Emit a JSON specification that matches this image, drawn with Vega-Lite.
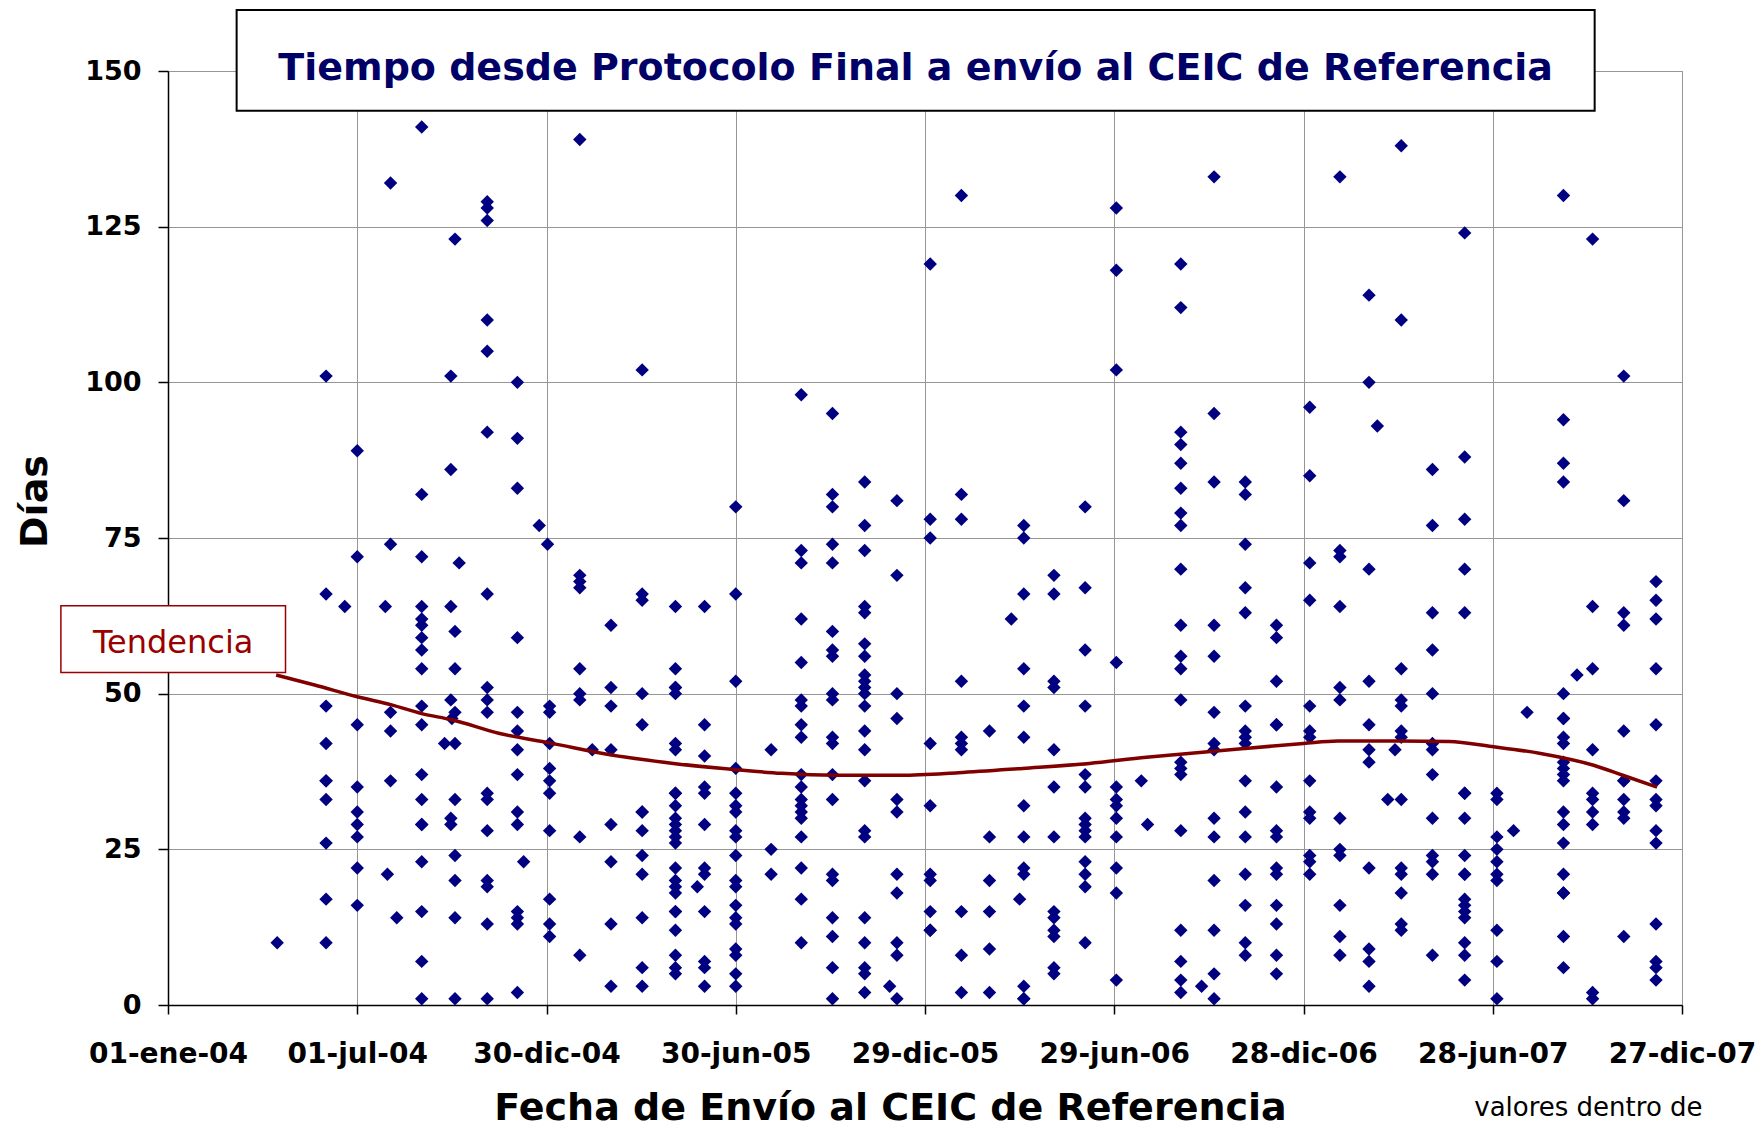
{
  "$schema": "https://vega.github.io/schema/vega-lite/v6.json",
  "width": 1514,
  "height": 934,
  "autosize": {"type": "none"},
  "padding": {"left": 168, "top": 71, "right": 81, "bottom": 124},
  "background": "white",
  "config": {
    "font": "DejaVu Sans",
    "view": {"stroke": "#969696", "strokeWidth": 1}
  },
  "datasets": {
    "puntos": [
      {"fecha":"2004-04-15","dias":10},
      {"fecha":"2004-06-01","dias":101},{"fecha":"2004-06-01","dias":66},{"fecha":"2004-06-01","dias":48},{"fecha":"2004-06-01","dias":42},{"fecha":"2004-06-01","dias":36},{"fecha":"2004-06-01","dias":36},{"fecha":"2004-06-01","dias":33},{"fecha":"2004-06-01","dias":26},{"fecha":"2004-06-01","dias":17},{"fecha":"2004-06-01","dias":10},
      {"fecha":"2004-06-19","dias":64},
      {"fecha":"2004-07-01","dias":89},{"fecha":"2004-07-01","dias":72},{"fecha":"2004-07-01","dias":45},{"fecha":"2004-07-01","dias":35},{"fecha":"2004-07-01","dias":31},{"fecha":"2004-07-01","dias":29},{"fecha":"2004-07-01","dias":27},{"fecha":"2004-07-01","dias":22},{"fecha":"2004-07-01","dias":16},
      {"fecha":"2004-07-28","dias":64},
      {"fecha":"2004-07-30","dias":21},
      {"fecha":"2004-08-02","dias":132},{"fecha":"2004-08-02","dias":74},{"fecha":"2004-08-02","dias":47},{"fecha":"2004-08-02","dias":44},{"fecha":"2004-08-02","dias":36},
      {"fecha":"2004-08-08","dias":14},
      {"fecha":"2004-09-01","dias":141},{"fecha":"2004-09-01","dias":82},{"fecha":"2004-09-01","dias":72},{"fecha":"2004-09-01","dias":64},{"fecha":"2004-09-01","dias":62},{"fecha":"2004-09-01","dias":61},{"fecha":"2004-09-01","dias":59},{"fecha":"2004-09-01","dias":57},{"fecha":"2004-09-01","dias":54},{"fecha":"2004-09-01","dias":48},{"fecha":"2004-09-01","dias":45},{"fecha":"2004-09-01","dias":37},{"fecha":"2004-09-01","dias":33},{"fecha":"2004-09-01","dias":29},{"fecha":"2004-09-01","dias":29},{"fecha":"2004-09-01","dias":23},{"fecha":"2004-09-01","dias":15},{"fecha":"2004-09-01","dias":7},{"fecha":"2004-09-01","dias":1},
      {"fecha":"2004-09-23","dias":42},
      {"fecha":"2004-09-29","dias":101},{"fecha":"2004-09-29","dias":86},{"fecha":"2004-09-29","dias":64},{"fecha":"2004-09-29","dias":49},{"fecha":"2004-09-29","dias":30},{"fecha":"2004-09-29","dias":29},
      {"fecha":"2004-09-30","dias":46},
      {"fecha":"2004-10-03","dias":123},{"fecha":"2004-10-03","dias":60},{"fecha":"2004-10-03","dias":54},{"fecha":"2004-10-03","dias":47},{"fecha":"2004-10-03","dias":42},{"fecha":"2004-10-03","dias":33},{"fecha":"2004-10-03","dias":24},{"fecha":"2004-10-03","dias":20},{"fecha":"2004-10-03","dias":14},{"fecha":"2004-10-03","dias":1},
      {"fecha":"2004-10-07","dias":71},
      {"fecha":"2004-11-03","dias":129},{"fecha":"2004-11-03","dias":128},{"fecha":"2004-11-03","dias":126},{"fecha":"2004-11-03","dias":110},{"fecha":"2004-11-03","dias":105},{"fecha":"2004-11-03","dias":92},{"fecha":"2004-11-03","dias":66},{"fecha":"2004-11-03","dias":51},{"fecha":"2004-11-03","dias":49},{"fecha":"2004-11-03","dias":47},{"fecha":"2004-11-03","dias":34},{"fecha":"2004-11-03","dias":33},{"fecha":"2004-11-03","dias":28},{"fecha":"2004-11-03","dias":20},{"fecha":"2004-11-03","dias":19},{"fecha":"2004-11-03","dias":13},{"fecha":"2004-11-03","dias":1},
      {"fecha":"2004-12-02","dias":100},{"fecha":"2004-12-02","dias":91},{"fecha":"2004-12-02","dias":83},{"fecha":"2004-12-02","dias":59},{"fecha":"2004-12-02","dias":47},{"fecha":"2004-12-02","dias":44},{"fecha":"2004-12-02","dias":41},{"fecha":"2004-12-02","dias":37},{"fecha":"2004-12-02","dias":31},{"fecha":"2004-12-02","dias":29},{"fecha":"2004-12-02","dias":15},{"fecha":"2004-12-02","dias":14},{"fecha":"2004-12-02","dias":13},{"fecha":"2004-12-02","dias":2},
      {"fecha":"2004-12-08","dias":23},
      {"fecha":"2004-12-23","dias":77},
      {"fecha":"2004-12-31","dias":74},
      {"fecha":"2005-01-02","dias":48},{"fecha":"2005-01-02","dias":47},{"fecha":"2005-01-02","dias":42},{"fecha":"2005-01-02","dias":38},{"fecha":"2005-01-02","dias":36},{"fecha":"2005-01-02","dias":34},{"fecha":"2005-01-02","dias":28},{"fecha":"2005-01-02","dias":17},{"fecha":"2005-01-02","dias":13},{"fecha":"2005-01-02","dias":11},
      {"fecha":"2005-01-31","dias":139},{"fecha":"2005-01-31","dias":69},{"fecha":"2005-01-31","dias":68},{"fecha":"2005-01-31","dias":67},{"fecha":"2005-01-31","dias":54},{"fecha":"2005-01-31","dias":50},{"fecha":"2005-01-31","dias":49},{"fecha":"2005-01-31","dias":27},{"fecha":"2005-01-31","dias":8},
      {"fecha":"2005-02-12","dias":41},
      {"fecha":"2005-03-02","dias":61},{"fecha":"2005-03-02","dias":51},{"fecha":"2005-03-02","dias":48},{"fecha":"2005-03-02","dias":41},{"fecha":"2005-03-02","dias":29},{"fecha":"2005-03-02","dias":23},{"fecha":"2005-03-02","dias":13},{"fecha":"2005-03-02","dias":3},
      {"fecha":"2005-04-01","dias":102},{"fecha":"2005-04-01","dias":66},{"fecha":"2005-04-01","dias":65},{"fecha":"2005-04-01","dias":50},{"fecha":"2005-04-01","dias":45},{"fecha":"2005-04-01","dias":31},{"fecha":"2005-04-01","dias":31},{"fecha":"2005-04-01","dias":28},{"fecha":"2005-04-01","dias":24},{"fecha":"2005-04-01","dias":21},{"fecha":"2005-04-01","dias":14},{"fecha":"2005-04-01","dias":6},{"fecha":"2005-04-01","dias":3},
      {"fecha":"2005-05-03","dias":64},{"fecha":"2005-05-03","dias":54},{"fecha":"2005-05-03","dias":51},{"fecha":"2005-05-03","dias":51},{"fecha":"2005-05-03","dias":50},{"fecha":"2005-05-03","dias":42},{"fecha":"2005-05-03","dias":41},{"fecha":"2005-05-03","dias":34},{"fecha":"2005-05-03","dias":34},{"fecha":"2005-05-03","dias":32},{"fecha":"2005-05-03","dias":30},{"fecha":"2005-05-03","dias":29},{"fecha":"2005-05-03","dias":28},{"fecha":"2005-05-03","dias":27},{"fecha":"2005-05-03","dias":26},{"fecha":"2005-05-03","dias":22},{"fecha":"2005-05-03","dias":20},{"fecha":"2005-05-03","dias":19},{"fecha":"2005-05-03","dias":18},{"fecha":"2005-05-03","dias":15},{"fecha":"2005-05-03","dias":15},{"fecha":"2005-05-03","dias":12},{"fecha":"2005-05-03","dias":8},{"fecha":"2005-05-03","dias":6},{"fecha":"2005-05-03","dias":5},
      {"fecha":"2005-05-24","dias":19},
      {"fecha":"2005-05-31","dias":64},{"fecha":"2005-05-31","dias":45},{"fecha":"2005-05-31","dias":40},{"fecha":"2005-05-31","dias":35},{"fecha":"2005-05-31","dias":34},{"fecha":"2005-05-31","dias":29},{"fecha":"2005-05-31","dias":22},{"fecha":"2005-05-31","dias":21},{"fecha":"2005-05-31","dias":15},{"fecha":"2005-05-31","dias":7},{"fecha":"2005-05-31","dias":6},{"fecha":"2005-05-31","dias":3},
      {"fecha":"2005-06-30","dias":80},{"fecha":"2005-06-30","dias":66},{"fecha":"2005-06-30","dias":52},{"fecha":"2005-06-30","dias":38},{"fecha":"2005-06-30","dias":34},{"fecha":"2005-06-30","dias":32},{"fecha":"2005-06-30","dias":31},{"fecha":"2005-06-30","dias":28},{"fecha":"2005-06-30","dias":27},{"fecha":"2005-06-30","dias":24},{"fecha":"2005-06-30","dias":20},{"fecha":"2005-06-30","dias":19},{"fecha":"2005-06-30","dias":16},{"fecha":"2005-06-30","dias":14},{"fecha":"2005-06-30","dias":13},{"fecha":"2005-06-30","dias":9},{"fecha":"2005-06-30","dias":8},{"fecha":"2005-06-30","dias":5},{"fecha":"2005-06-30","dias":3},
      {"fecha":"2005-08-03","dias":41},{"fecha":"2005-08-03","dias":25},{"fecha":"2005-08-03","dias":21},
      {"fecha":"2005-09-01","dias":98},{"fecha":"2005-09-01","dias":73},{"fecha":"2005-09-01","dias":71},{"fecha":"2005-09-01","dias":62},{"fecha":"2005-09-01","dias":55},{"fecha":"2005-09-01","dias":49},{"fecha":"2005-09-01","dias":48},{"fecha":"2005-09-01","dias":45},{"fecha":"2005-09-01","dias":43},{"fecha":"2005-09-01","dias":37},{"fecha":"2005-09-01","dias":35},{"fecha":"2005-09-01","dias":33},{"fecha":"2005-09-01","dias":32},{"fecha":"2005-09-01","dias":31},{"fecha":"2005-09-01","dias":30},{"fecha":"2005-09-01","dias":27},{"fecha":"2005-09-01","dias":22},{"fecha":"2005-09-01","dias":17},{"fecha":"2005-09-01","dias":10},
      {"fecha":"2005-10-01","dias":95},{"fecha":"2005-10-01","dias":82},{"fecha":"2005-10-01","dias":80},{"fecha":"2005-10-01","dias":74},{"fecha":"2005-10-01","dias":71},{"fecha":"2005-10-01","dias":60},{"fecha":"2005-10-01","dias":57},{"fecha":"2005-10-01","dias":56},{"fecha":"2005-10-01","dias":50},{"fecha":"2005-10-01","dias":49},{"fecha":"2005-10-01","dias":43},{"fecha":"2005-10-01","dias":42},{"fecha":"2005-10-01","dias":37},{"fecha":"2005-10-01","dias":33},{"fecha":"2005-10-01","dias":21},{"fecha":"2005-10-01","dias":20},{"fecha":"2005-10-01","dias":14},{"fecha":"2005-10-01","dias":11},{"fecha":"2005-10-01","dias":6},{"fecha":"2005-10-01","dias":1},
      {"fecha":"2005-11-01","dias":84},{"fecha":"2005-11-01","dias":77},{"fecha":"2005-11-01","dias":73},{"fecha":"2005-11-01","dias":64},{"fecha":"2005-11-01","dias":63},{"fecha":"2005-11-01","dias":58},{"fecha":"2005-11-01","dias":56},{"fecha":"2005-11-01","dias":53},{"fecha":"2005-11-01","dias":52},{"fecha":"2005-11-01","dias":51},{"fecha":"2005-11-01","dias":50},{"fecha":"2005-11-01","dias":48},{"fecha":"2005-11-01","dias":44},{"fecha":"2005-11-01","dias":41},{"fecha":"2005-11-01","dias":36},{"fecha":"2005-11-01","dias":28},{"fecha":"2005-11-01","dias":27},{"fecha":"2005-11-01","dias":14},{"fecha":"2005-11-01","dias":10},{"fecha":"2005-11-01","dias":6},{"fecha":"2005-11-01","dias":5},{"fecha":"2005-11-01","dias":2},
      {"fecha":"2005-11-25","dias":3},
      {"fecha":"2005-12-02","dias":81},{"fecha":"2005-12-02","dias":69},{"fecha":"2005-12-02","dias":50},{"fecha":"2005-12-02","dias":46},{"fecha":"2005-12-02","dias":33},{"fecha":"2005-12-02","dias":31},{"fecha":"2005-12-02","dias":21},{"fecha":"2005-12-02","dias":18},{"fecha":"2005-12-02","dias":10},{"fecha":"2005-12-02","dias":8},{"fecha":"2005-12-02","dias":1},
      {"fecha":"2006-01-03","dias":119},{"fecha":"2006-01-03","dias":78},{"fecha":"2006-01-03","dias":75},{"fecha":"2006-01-03","dias":42},{"fecha":"2006-01-03","dias":32},{"fecha":"2006-01-03","dias":21},{"fecha":"2006-01-03","dias":20},{"fecha":"2006-01-03","dias":15},{"fecha":"2006-01-03","dias":12},{"fecha":"2006-01-03","dias":12},
      {"fecha":"2006-02-02","dias":130},{"fecha":"2006-02-02","dias":82},{"fecha":"2006-02-02","dias":78},{"fecha":"2006-02-02","dias":52},{"fecha":"2006-02-02","dias":43},{"fecha":"2006-02-02","dias":42},{"fecha":"2006-02-02","dias":41},{"fecha":"2006-02-02","dias":15},{"fecha":"2006-02-02","dias":8},{"fecha":"2006-02-02","dias":2},
      {"fecha":"2006-03-01","dias":44},{"fecha":"2006-03-01","dias":27},{"fecha":"2006-03-01","dias":20},{"fecha":"2006-03-01","dias":15},{"fecha":"2006-03-01","dias":9},{"fecha":"2006-03-01","dias":2},
      {"fecha":"2006-03-22","dias":62},
      {"fecha":"2006-03-30","dias":17},
      {"fecha":"2006-04-03","dias":77},{"fecha":"2006-04-03","dias":75},{"fecha":"2006-04-03","dias":66},{"fecha":"2006-04-03","dias":54},{"fecha":"2006-04-03","dias":48},{"fecha":"2006-04-03","dias":43},{"fecha":"2006-04-03","dias":32},{"fecha":"2006-04-03","dias":27},{"fecha":"2006-04-03","dias":22},{"fecha":"2006-04-03","dias":21},{"fecha":"2006-04-03","dias":3},{"fecha":"2006-04-03","dias":1},{"fecha":"2006-04-03","dias":1},
      {"fecha":"2006-05-02","dias":69},{"fecha":"2006-05-02","dias":66},{"fecha":"2006-05-02","dias":52},{"fecha":"2006-05-02","dias":51},{"fecha":"2006-05-02","dias":41},{"fecha":"2006-05-02","dias":35},{"fecha":"2006-05-02","dias":27},{"fecha":"2006-05-02","dias":15},{"fecha":"2006-05-02","dias":14},{"fecha":"2006-05-02","dias":12},{"fecha":"2006-05-02","dias":11},{"fecha":"2006-05-02","dias":6},{"fecha":"2006-05-02","dias":5},
      {"fecha":"2006-06-01","dias":80},{"fecha":"2006-06-01","dias":67},{"fecha":"2006-06-01","dias":57},{"fecha":"2006-06-01","dias":48},{"fecha":"2006-06-01","dias":37},{"fecha":"2006-06-01","dias":35},{"fecha":"2006-06-01","dias":30},{"fecha":"2006-06-01","dias":29},{"fecha":"2006-06-01","dias":28},{"fecha":"2006-06-01","dias":27},{"fecha":"2006-06-01","dias":23},{"fecha":"2006-06-01","dias":21},{"fecha":"2006-06-01","dias":19},{"fecha":"2006-06-01","dias":10},
      {"fecha":"2006-07-01","dias":128},{"fecha":"2006-07-01","dias":118},{"fecha":"2006-07-01","dias":102},{"fecha":"2006-07-01","dias":55},{"fecha":"2006-07-01","dias":35},{"fecha":"2006-07-01","dias":33},{"fecha":"2006-07-01","dias":32},{"fecha":"2006-07-01","dias":30},{"fecha":"2006-07-01","dias":27},{"fecha":"2006-07-01","dias":22},{"fecha":"2006-07-01","dias":18},{"fecha":"2006-07-01","dias":4},
      {"fecha":"2006-07-25","dias":36},
      {"fecha":"2006-07-31","dias":29},
      {"fecha":"2006-09-01","dias":119},{"fecha":"2006-09-01","dias":112},{"fecha":"2006-09-01","dias":92},{"fecha":"2006-09-01","dias":90},{"fecha":"2006-09-01","dias":87},{"fecha":"2006-09-01","dias":83},{"fecha":"2006-09-01","dias":79},{"fecha":"2006-09-01","dias":77},{"fecha":"2006-09-01","dias":70},{"fecha":"2006-09-01","dias":61},{"fecha":"2006-09-01","dias":56},{"fecha":"2006-09-01","dias":54},{"fecha":"2006-09-01","dias":49},{"fecha":"2006-09-01","dias":39},{"fecha":"2006-09-01","dias":38},{"fecha":"2006-09-01","dias":37},{"fecha":"2006-09-01","dias":28},{"fecha":"2006-09-01","dias":12},{"fecha":"2006-09-01","dias":7},{"fecha":"2006-09-01","dias":4},{"fecha":"2006-09-01","dias":2},
      {"fecha":"2006-09-21","dias":3},
      {"fecha":"2006-10-03","dias":133},{"fecha":"2006-10-03","dias":95},{"fecha":"2006-10-03","dias":84},{"fecha":"2006-10-03","dias":61},{"fecha":"2006-10-03","dias":56},{"fecha":"2006-10-03","dias":47},{"fecha":"2006-10-03","dias":42},{"fecha":"2006-10-03","dias":41},{"fecha":"2006-10-03","dias":30},{"fecha":"2006-10-03","dias":27},{"fecha":"2006-10-03","dias":20},{"fecha":"2006-10-03","dias":12},{"fecha":"2006-10-03","dias":5},{"fecha":"2006-10-03","dias":1},
      {"fecha":"2006-11-02","dias":84},{"fecha":"2006-11-02","dias":82},{"fecha":"2006-11-02","dias":74},{"fecha":"2006-11-02","dias":67},{"fecha":"2006-11-02","dias":63},{"fecha":"2006-11-02","dias":48},{"fecha":"2006-11-02","dias":44},{"fecha":"2006-11-02","dias":43},{"fecha":"2006-11-02","dias":42},{"fecha":"2006-11-02","dias":36},{"fecha":"2006-11-02","dias":31},{"fecha":"2006-11-02","dias":27},{"fecha":"2006-11-02","dias":21},{"fecha":"2006-11-02","dias":16},{"fecha":"2006-11-02","dias":10},{"fecha":"2006-11-02","dias":8},
      {"fecha":"2006-12-02","dias":61},{"fecha":"2006-12-02","dias":59},{"fecha":"2006-12-02","dias":52},{"fecha":"2006-12-02","dias":45},{"fecha":"2006-12-02","dias":45},{"fecha":"2006-12-02","dias":35},{"fecha":"2006-12-02","dias":28},{"fecha":"2006-12-02","dias":27},{"fecha":"2006-12-02","dias":22},{"fecha":"2006-12-02","dias":21},{"fecha":"2006-12-02","dias":16},{"fecha":"2006-12-02","dias":13},{"fecha":"2006-12-02","dias":8},{"fecha":"2006-12-02","dias":5},
      {"fecha":"2007-01-03","dias":96},{"fecha":"2007-01-03","dias":85},{"fecha":"2007-01-03","dias":71},{"fecha":"2007-01-03","dias":65},{"fecha":"2007-01-03","dias":48},{"fecha":"2007-01-03","dias":44},{"fecha":"2007-01-03","dias":43},{"fecha":"2007-01-03","dias":36},{"fecha":"2007-01-03","dias":31},{"fecha":"2007-01-03","dias":30},{"fecha":"2007-01-03","dias":24},{"fecha":"2007-01-03","dias":23},{"fecha":"2007-01-03","dias":21},
      {"fecha":"2007-02-01","dias":133},{"fecha":"2007-02-01","dias":73},{"fecha":"2007-02-01","dias":72},{"fecha":"2007-02-01","dias":64},{"fecha":"2007-02-01","dias":51},{"fecha":"2007-02-01","dias":49},{"fecha":"2007-02-01","dias":30},{"fecha":"2007-02-01","dias":25},{"fecha":"2007-02-01","dias":24},{"fecha":"2007-02-01","dias":16},{"fecha":"2007-02-01","dias":11},{"fecha":"2007-02-01","dias":8},
      {"fecha":"2007-03-01","dias":114},{"fecha":"2007-03-01","dias":100},{"fecha":"2007-03-01","dias":70},{"fecha":"2007-03-01","dias":52},{"fecha":"2007-03-01","dias":45},{"fecha":"2007-03-01","dias":41},{"fecha":"2007-03-01","dias":39},{"fecha":"2007-03-01","dias":22},{"fecha":"2007-03-01","dias":9},{"fecha":"2007-03-01","dias":7},{"fecha":"2007-03-01","dias":3},
      {"fecha":"2007-03-09","dias":93},
      {"fecha":"2007-03-19","dias":33},
      {"fecha":"2007-03-26","dias":41},
      {"fecha":"2007-04-01","dias":138},{"fecha":"2007-04-01","dias":110},{"fecha":"2007-04-01","dias":54},{"fecha":"2007-04-01","dias":49},{"fecha":"2007-04-01","dias":48},{"fecha":"2007-04-01","dias":44},{"fecha":"2007-04-01","dias":43},{"fecha":"2007-04-01","dias":33},{"fecha":"2007-04-01","dias":22},{"fecha":"2007-04-01","dias":21},{"fecha":"2007-04-01","dias":18},{"fecha":"2007-04-01","dias":13},{"fecha":"2007-04-01","dias":12},
      {"fecha":"2007-05-01","dias":86},{"fecha":"2007-05-01","dias":77},{"fecha":"2007-05-01","dias":63},{"fecha":"2007-05-01","dias":57},{"fecha":"2007-05-01","dias":50},{"fecha":"2007-05-01","dias":42},{"fecha":"2007-05-01","dias":41},{"fecha":"2007-05-01","dias":37},{"fecha":"2007-05-01","dias":30},{"fecha":"2007-05-01","dias":24},{"fecha":"2007-05-01","dias":23},{"fecha":"2007-05-01","dias":21},{"fecha":"2007-05-01","dias":8},
      {"fecha":"2007-06-01","dias":124},{"fecha":"2007-06-01","dias":88},{"fecha":"2007-06-01","dias":78},{"fecha":"2007-06-01","dias":70},{"fecha":"2007-06-01","dias":63},{"fecha":"2007-06-01","dias":34},{"fecha":"2007-06-01","dias":34},{"fecha":"2007-06-01","dias":30},{"fecha":"2007-06-01","dias":24},{"fecha":"2007-06-01","dias":21},{"fecha":"2007-06-01","dias":21},{"fecha":"2007-06-01","dias":17},{"fecha":"2007-06-01","dias":16},{"fecha":"2007-06-01","dias":15},{"fecha":"2007-06-01","dias":14},{"fecha":"2007-06-01","dias":10},{"fecha":"2007-06-01","dias":8},{"fecha":"2007-06-01","dias":4},
      {"fecha":"2007-07-02","dias":34},{"fecha":"2007-07-02","dias":33},{"fecha":"2007-07-02","dias":27},{"fecha":"2007-07-02","dias":25},{"fecha":"2007-07-02","dias":23},{"fecha":"2007-07-02","dias":21},{"fecha":"2007-07-02","dias":20},{"fecha":"2007-07-02","dias":12},{"fecha":"2007-07-02","dias":7},{"fecha":"2007-07-02","dias":1},
      {"fecha":"2007-07-18","dias":28},
      {"fecha":"2007-07-31","dias":47},
      {"fecha":"2007-09-04","dias":130},{"fecha":"2007-09-04","dias":94},{"fecha":"2007-09-04","dias":87},{"fecha":"2007-09-04","dias":84},{"fecha":"2007-09-04","dias":50},{"fecha":"2007-09-04","dias":46},{"fecha":"2007-09-04","dias":46},{"fecha":"2007-09-04","dias":43},{"fecha":"2007-09-04","dias":42},{"fecha":"2007-09-04","dias":39},{"fecha":"2007-09-04","dias":38},{"fecha":"2007-09-04","dias":37},{"fecha":"2007-09-04","dias":36},{"fecha":"2007-09-04","dias":31},{"fecha":"2007-09-04","dias":29},{"fecha":"2007-09-04","dias":26},{"fecha":"2007-09-04","dias":21},{"fecha":"2007-09-04","dias":18},{"fecha":"2007-09-04","dias":18},{"fecha":"2007-09-04","dias":11},{"fecha":"2007-09-04","dias":6},
      {"fecha":"2007-09-17","dias":53},
      {"fecha":"2007-10-02","dias":123},{"fecha":"2007-10-02","dias":64},{"fecha":"2007-10-02","dias":54},{"fecha":"2007-10-02","dias":41},{"fecha":"2007-10-02","dias":34},{"fecha":"2007-10-02","dias":33},{"fecha":"2007-10-02","dias":31},{"fecha":"2007-10-02","dias":29},{"fecha":"2007-10-02","dias":2},{"fecha":"2007-10-02","dias":1},
      {"fecha":"2007-11-01","dias":101},{"fecha":"2007-11-01","dias":81},{"fecha":"2007-11-01","dias":63},{"fecha":"2007-11-01","dias":61},{"fecha":"2007-11-01","dias":44},{"fecha":"2007-11-01","dias":36},{"fecha":"2007-11-01","dias":36},{"fecha":"2007-11-01","dias":33},{"fecha":"2007-11-01","dias":31},{"fecha":"2007-11-01","dias":30},{"fecha":"2007-11-01","dias":11},
      {"fecha":"2007-12-02","dias":68},{"fecha":"2007-12-02","dias":65},{"fecha":"2007-12-02","dias":62},{"fecha":"2007-12-02","dias":54},{"fecha":"2007-12-02","dias":45},{"fecha":"2007-12-02","dias":36},{"fecha":"2007-12-02","dias":33},{"fecha":"2007-12-02","dias":32},{"fecha":"2007-12-02","dias":28},{"fecha":"2007-12-02","dias":26},{"fecha":"2007-12-02","dias":13},{"fecha":"2007-12-02","dias":7},{"fecha":"2007-12-02","dias":6},{"fecha":"2007-12-02","dias":4}
    ],
    "tendencia": [
      {"fecha":"2004-04-14","dias":53.0},
      {"fecha":"2004-05-21","dias":51.4},
      {"fecha":"2004-07-01","dias":49.5},
      {"fecha":"2004-08-03","dias":48.2},
      {"fecha":"2004-09-01","dias":46.8},
      {"fecha":"2004-09-30","dias":45.8},
      {"fecha":"2004-11-15","dias":43.6},
      {"fecha":"2005-01-02","dias":42.1},
      {"fecha":"2005-03-04","dias":40.1},
      {"fecha":"2005-05-01","dias":38.8},
      {"fecha":"2005-06-30","dias":37.8},
      {"fecha":"2005-08-13","dias":37.2},
      {"fecha":"2005-10-03","dias":36.9},
      {"fecha":"2005-12-06","dias":36.9},
      {"fecha":"2006-01-30","dias":37.3},
      {"fecha":"2006-04-02","dias":38.0},
      {"fecha":"2006-06-05","dias":38.8},
      {"fecha":"2006-07-30","dias":39.8},
      {"fecha":"2006-09-03","dias":40.3},
      {"fecha":"2006-11-01","dias":41.2},
      {"fecha":"2006-12-28","dias":42.0},
      {"fecha":"2007-01-30","dias":42.4},
      {"fecha":"2007-03-30","dias":42.4},
      {"fecha":"2007-05-17","dias":42.3},
      {"fecha":"2007-06-27","dias":41.5},
      {"fecha":"2007-08-13","dias":40.4},
      {"fecha":"2007-10-03","dias":38.5},
      {"fecha":"2007-10-31","dias":36.9},
      {"fecha":"2007-12-03","dias":35.0}
    ],
    "cajaTitulo": [{"fecha":"2004-03-07","fecha2":"2007-10-04","dias":159.8,"dias2":143.6}],
    "textoTitulo": [{"fecha":"2005-12-20","dias":148.5,"texto":"Tiempo desde Protocolo Final a envío al CEIC de Referencia"}],
    "cajaTendencia": [{"fecha":"2003-09-20","fecha2":"2004-04-23","dias":64.1,"dias2":53.4}],
    "textoTendencia": [{"fecha":"2004-01-06","dias":56.5,"texto":"Tendencia"}],
    "nota": [{"fecha":"2007-09-28","dias":-17.8,"texto":"valores dentro de"}]
  },
  "encoding": {
    "x": {
      "field": "fecha",
      "type": "temporal",
      "scale": {
        "type": "utc",
        "nice": false,
        "domain": [{"year": 2004, "month": 1, "date": 1, "utc": true}, {"year": 2007, "month": 12, "date": 27, "utc": true}]
      },
      "axis": {
        "values": [
          {"year": 2004, "month": 1, "date": 1, "utc": true},
          {"year": 2004, "month": 7, "date": 1, "utc": true},
          {"year": 2004, "month": 12, "date": 30, "utc": true},
          {"year": 2005, "month": 6, "date": 30, "utc": true},
          {"year": 2005, "month": 12, "date": 29, "utc": true},
          {"year": 2006, "month": 6, "date": 29, "utc": true},
          {"year": 2006, "month": 12, "date": 28, "utc": true},
          {"year": 2007, "month": 6, "date": 28, "utc": true},
          {"year": 2007, "month": 12, "date": 27, "utc": true}
        ],
        "labelExpr": "utcFormat(datum.value, '%d') + '-' + ['ene','feb','mar','abr','may','jun','jul','ago','sep','oct','nov','dic'][utcmonth(datum.value)] + '-' + utcFormat(datum.value, '%y')",
        "labelFont": "DejaVu Sans",
        "labelFontWeight": "bold",
        "labelFontSize": 28,
        "labelColor": "black",
        "labelBaseline": "alphabetic",
        "labelPadding": 48,
        "labelFlush": false,
        "labelOverlap": false,
        "tickSize": 9,
        "tickColor": "black",
        "tickWidth": 1.5,
        "domainColor": "black",
        "domainWidth": 1.5,
        "grid": true,
        "gridColor": "#969696",
        "gridWidth": 1,
        "title": "Fecha de Envío al CEIC de Referencia",
        "titleFont": "DejaVu Sans",
        "titleFontWeight": "bold",
        "titleFontSize": 38,
        "titleColor": "black",
        "titleAlign": "center",
        "titleBaseline": "alphabetic",
        "titleX": 722,
        "titleY": 114
      }
    },
    "y": {
      "field": "dias",
      "type": "quantitative",
      "scale": {"domain": [0, 150], "nice": false, "zero": false},
      "axis": {
        "values": [0, 25, 50, 75, 100, 125, 150],
        "labelFont": "DejaVu Sans",
        "labelFontWeight": "bold",
        "labelFontSize": 27,
        "labelColor": "black",
        "labelPadding": 17,
        "labelFlush": false,
        "tickSize": 10,
        "tickColor": "black",
        "tickWidth": 1.5,
        "domainColor": "black",
        "domainWidth": 1.5,
        "grid": true,
        "gridColor": "#969696",
        "gridWidth": 1,
        "title": "Días",
        "titleFont": "DejaVu Sans",
        "titleFontWeight": "bold",
        "titleFontSize": 38,
        "titleColor": "black",
        "titleAngle": -90,
        "titleAlign": "center",
        "titleBaseline": "alphabetic",
        "titleX": -122,
        "titleY": 430
      }
    }
  },
  "layer": [
    {
      "data": {"name": "cajaTitulo"},
      "mark": {"type": "rect", "fill": "white", "stroke": "black", "strokeWidth": 2},
      "encoding": {
        "x2": {"field": "fecha2"},
        "y2": {"field": "dias2"}
      }
    },
    {
      "data": {"name": "textoTitulo"},
      "mark": {"type": "text", "font": "DejaVu Sans", "fontWeight": "bold", "fontSize": 38, "color": "#000066", "align": "center", "baseline": "alphabetic"},
      "encoding": {"text": {"field": "texto"}}
    },
    {
      "data": {"name": "puntos"},
      "mark": {"type": "point", "shape": "diamond", "filled": true, "size": 180, "color": "#000080", "opacity": 1, "strokeWidth": 0}
    },
    {
      "data": {"name": "tendencia"},
      "mark": {"type": "line", "color": "#800000", "strokeWidth": 3.5, "interpolate": "monotone"}
    },
    {
      "data": {"name": "cajaTendencia"},
      "mark": {"type": "rect", "fill": "white", "stroke": "#990000", "strokeWidth": 1.5},
      "encoding": {
        "x2": {"field": "fecha2"},
        "y2": {"field": "dias2"}
      }
    },
    {
      "data": {"name": "textoTendencia"},
      "mark": {"type": "text", "font": "DejaVu Sans", "fontSize": 32, "color": "#990000", "align": "center", "baseline": "alphabetic"},
      "encoding": {"text": {"field": "texto"}}
    },
    {
      "data": {"name": "nota"},
      "mark": {"type": "text", "font": "DejaVu Sans", "fontSize": 26, "color": "black", "align": "center", "baseline": "alphabetic"},
      "encoding": {"text": {"field": "texto"}}
    }
  ]
}
